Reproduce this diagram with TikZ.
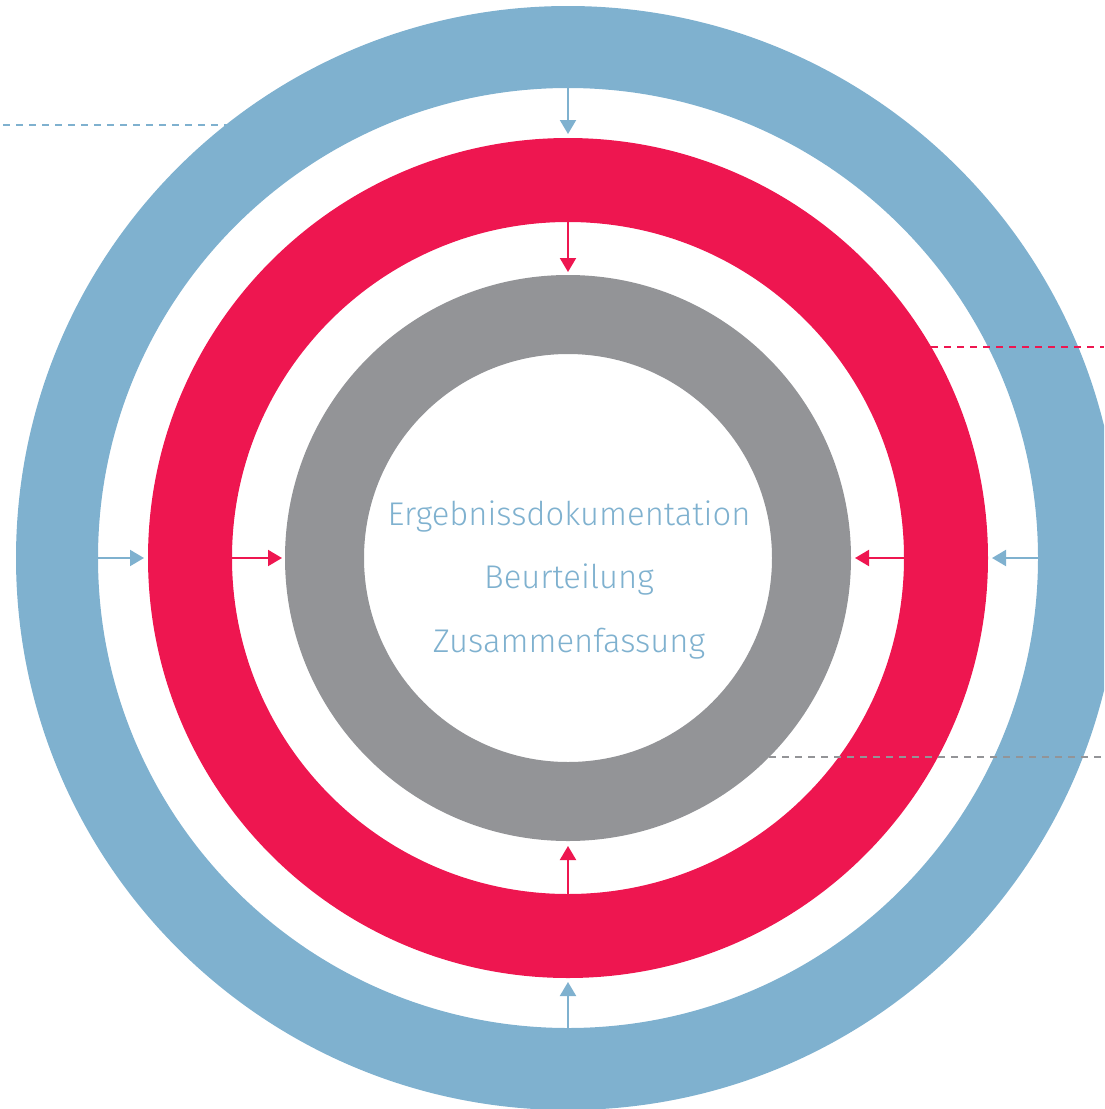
\documentclass[tikz,border=0pt]{standalone}
\usepackage{fontspec}
\setmainfont{Fira Sans Light}
\usetikzlibrary{arrows.meta}
\definecolor{ringblue}{HTML}{7FB1CF}
\definecolor{ringred}{HTML}{EE1650}
\definecolor{ringgray}{HTML}{939497}
\tikzset{
  ring/.style={even odd rule},
  flow/.style={line width=2pt,-{Triangle[width=16pt,length=14pt]}},
  guide/.style={line width=2.8pt,dash pattern=on 6.5pt off 6.5pt},
  label/.style={anchor=base,text=ringblue,font=\fontsize{32.8}{33}\selectfont,inner sep=0pt}
}
\begin{document}
\begin{tikzpicture}[x=1pt,y=1pt]
\useasboundingbox (0,0) rectangle (1104,-1109);
\clip (0,0) rectangle (1104,-1109);
\coordinate (c) at (568,-558);
% guide line behind blue ring
\coordinate (gb1) at (3,-125);
\coordinate (gb2) at (230,-125);
\draw[guide,ringblue] (gb1) -- (gb2);
% rings
\fill[ring,ringblue] (c) circle (552) (c) circle (470);
\fill[ring,ringred] (c) circle (420) (c) circle (336);
\fill[ring,ringgray] (c) circle (283) (c) circle (204);
% guide lines on top
\coordinate (gr1) at (931,-347);
\coordinate (gr2) at (1104,-347);
\draw[guide,ringred] (gr1) -- (gr2);
\coordinate (gg1) at (769,-757);
\coordinate (gg2) at (1104,-757);
\draw[guide,ringgray] (gg1) -- (gg2);
% arrow end points
\coordinate (bt1) at (568,-88);   \coordinate (bt2) at (568,-134);
\coordinate (bb1) at (568,-1028); \coordinate (bb2) at (568,-982);
\coordinate (bl1) at (98,-558);   \coordinate (bl2) at (144,-558);
\coordinate (br1) at (1038,-558); \coordinate (br2) at (992,-558);
\coordinate (rt1) at (568,-222);  \coordinate (rt2) at (568,-272);
\coordinate (rb1) at (568,-894);  \coordinate (rb2) at (568,-846);
\coordinate (rl1) at (232,-558);  \coordinate (rl2) at (282,-558);
\coordinate (rr1) at (905,-558);  \coordinate (rr2) at (855,-558);
\draw[flow,ringblue] (bt1) -- (bt2);
\draw[flow,ringblue] (bb1) -- (bb2);
\draw[flow,ringblue] (bl1) -- (bl2);
\draw[flow,ringblue] (br1) -- (br2);
\draw[flow,ringred] (rt1) -- (rt2);
\draw[flow,ringred] (rb1) -- (rb2);
\draw[flow,ringred] (rl1) -- (rl2);
\draw[flow,ringred] (rr1) -- (rr2);
% texts
\node[label] (t1) at (569,-525) {Ergebnissdokumentation};
\node[label] (t2) at (569,-588) {Beurteilung};
\node[label] (t3) at (569,-652) {Zusammenfassung};
\end{tikzpicture}
\end{document}
